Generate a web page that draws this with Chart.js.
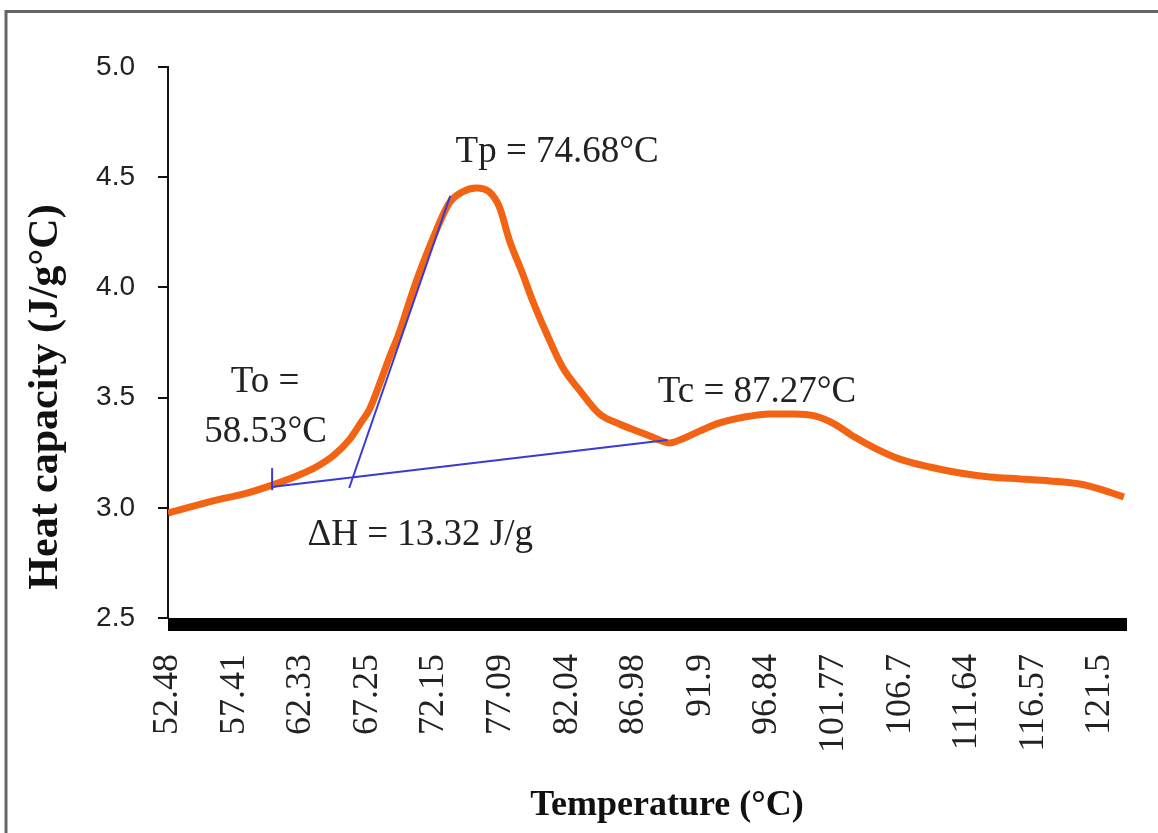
<!DOCTYPE html>
<html><head><meta charset="utf-8">
<script src="https://cdn.jsdelivr.net/npm/chart.js@4/dist/chart.umd.min.js"></script>
<style>html,body{margin:0;padding:0;background:#fff;}#wrap{width:1158px;height:833px;}</style>
</head><body><div id="wrap"><canvas id="c" width="1158" height="833"></canvas></div>
<script>
// ---- data ----
const temperatures = [52.48, 56.04, 58.11, 60.19, 62.19, 63.45, 64.79, 65.90, 66.79, 67.38, 68.12, 68.86, 69.60, 70.35, 71.09, 72.05, 73.31, 74.27, 75.31, 76.28, 77.02, 77.76, 78.72, 79.46, 80.50, 81.69, 82.95, 84.43, 85.91, 87.39, 88.51, 89.62, 90.73, 91.84, 93.33, 95.18, 97.03, 98.89, 100.37, 101.85, 103.33, 104.82, 106.67, 108.89, 111.12, 113.34, 115.57, 117.79, 120.01, 121.50, 122.38, 123.27];
const heatCapacity = [2.976, 3.035, 3.063, 3.103, 3.149, 3.185, 3.240, 3.308, 3.389, 3.444, 3.557, 3.680, 3.793, 3.934, 4.065, 4.215, 4.383, 4.433, 4.451, 4.433, 4.365, 4.215, 4.065, 3.943, 3.793, 3.639, 3.534, 3.426, 3.380, 3.344, 3.317, 3.294, 3.317, 3.348, 3.385, 3.412, 3.426, 3.426, 3.417, 3.380, 3.321, 3.271, 3.221, 3.185, 3.158, 3.140, 3.131, 3.122, 3.108, 3.085, 3.067, 3.049];
const xTickLabels = [52.48, 57.41, 62.33, 67.25, 72.15, 77.09, 82.04, 86.98, 91.9, 96.84, 101.77, 106.7, 111.64, 116.57, 121.5];
const yTickValues = [2.5, 3.0, 3.5, 4.0, 4.5, 5.0];
const baselineT = [60.12, 89.47];
const baselineCp = [3.094, 3.308];
const tangentT = [65.90, 73.38];
const tangentCp = [3.090, 4.415];
const onsetMarkT = [60.19, 60.19];
const onsetMarkCp = [3.08, 3.18];
const xTitle = 'Temperature (°C)';
const yTitle = 'Heat capacity (J/g°C)';
const annotationTexts = ['Tp = 74.68°C', 'To =', '58.53°C', 'Tc = 87.27°C', 'ΔH = 13.32 J/g'];
// anchor of each annotation (data units), separate from the data
const annotationAnchors = [[81.3, 4.569], [59.67, 3.525], [59.7, 3.299], [96.1, 3.48], [71.16, 2.831]];

const toXY = (xs, ys) => xs.map((x, i) => ({x: x, y: ys[i]}));

const decor = {
  id: 'decor',
  beforeDraw(chart) {
    const c = chart.ctx;
    c.save();
    c.fillStyle = '#fff';
    c.fillRect(0, 0, chart.width, chart.height);
    c.strokeStyle = '#666';
    c.lineWidth = 3;
    c.beginPath();
    c.moveTo(6, chart.height);
    c.lineTo(6, 11.5);
    c.lineTo(chart.width, 11.5);
    c.stroke();
    c.restore();
  },
  beforeDatasetsDraw(chart) {
    const a = chart.chartArea, c = chart.ctx;
    c.save();
    c.fillStyle = '#000';
    c.fillRect(a.left, a.bottom, a.right - a.left, 13);
    c.restore();
  },
  afterDraw(chart) {
    const c = chart.ctx, sx = chart.scales.x, sy = chart.scales.y;
    c.save();
    c.fillStyle = '#222';
    c.textAlign = 'center';
    c.textBaseline = 'alphabetic';
    c.font = '37px "Liberation Serif", "Times New Roman", serif';
    annotationTexts.forEach((t, i) => {
      c.fillText(t, sx.getPixelForValue(annotationAnchors[i][0]), sy.getPixelForValue(annotationAnchors[i][1]));
    });
    c.fillStyle = '#111';
    c.font = 'bold 36px "Liberation Serif", "Times New Roman", serif';
    c.fillText(xTitle, 667, 815);
    c.translate(46, 397);
    c.rotate(-Math.PI / 2);
    c.textBaseline = 'middle';
    c.font = 'bold 42px "Liberation Serif", "Times New Roman", serif';
    c.fillText(yTitle, 0, 0);
    c.restore();
  }
};

new Chart(document.getElementById('c'), {
  type: 'line',
  data: {
    datasets: [
      {label: 'baseline', data: toXY(baselineT, baselineCp), borderColor: '#3a3ad6', borderWidth: 2, pointRadius: 0, order: 0},
      {label: 'tangent', data: toXY(tangentT, tangentCp), borderColor: '#3a3ad6', borderWidth: 2, pointRadius: 0, order: 0},
      {label: 'onset', data: toXY(onsetMarkT, onsetMarkCp), borderColor: '#3a3ad6', borderWidth: 2, pointRadius: 0, order: 0},
      {label: 'Heat capacity', data: toXY(temperatures, heatCapacity), borderColor: '#f26414', borderWidth: 7, pointRadius: 0, cubicInterpolationMode: 'monotone', borderCapStyle: 'butt', order: 1}
    ]
  },
  options: {
    responsive: false,
    devicePixelRatio: 1,
    animation: false,
    layout: {padding: {left: 0, top: 67, right: 31, bottom: 0}},
    plugins: {legend: {display: false}, tooltip: {enabled: false}},
    scales: {
      x: {
        type: 'linear', min: 52.48, max: 123.5,
        afterBuildTicks(s) { s.ticks = xTickLabels.map(v => ({value: v})); },
        afterFit(s) { s.height = 215; s.paddingLeft = 0; s.paddingRight = 0; },
        grid: {display: false},
        border: {display: false},
        ticks: {autoSkip: false, minRotation: 90, maxRotation: 90, padding: 28, color: '#222',
          font: {family: '"Liberation Serif", "Times New Roman", serif', size: 36},
          callback: v => String(v)}
      },
      y: {
        min: 2.5, max: 5.0,
        afterBuildTicks(s) { s.ticks = yTickValues.map(v => ({value: v})); },
        afterFit(s) { s.width = 168; },
        grid: {drawOnChartArea: false, tickLength: 10, color: '#111', lineWidth: 2},
        border: {color: '#111', width: 2},
        ticks: {padding: 23, color: '#222', font: {family: '"Liberation Sans", Arial, sans-serif', size: 28},
          callback: v => Number(v).toFixed(1)}
      }
    }
  },
  plugins: [decor]
});
</script></body></html>
